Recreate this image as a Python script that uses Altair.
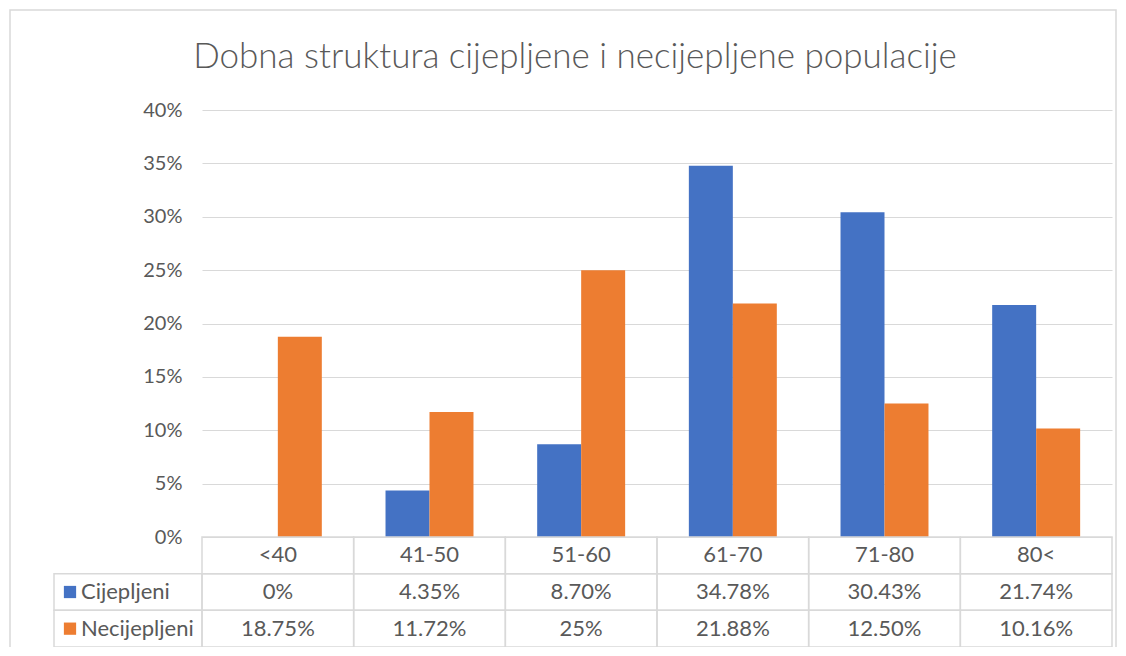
import altair as alt
import pandas as pd

categories = ["<40", "41-50", "51-60", "61-70", "71-80", "80<"]
series_names = ["Cijepljeni", "Necijepljeni"]
cijepljeni = [0.0, 4.35, 8.70, 34.78, 30.43, 21.74]
necijepljeni = [18.75, 11.72, 25.0, 21.88, 12.50, 10.16]
cijepljeni_labels = ["0%", "4.35%", "8.70%", "34.78%", "30.43%", "21.74%"]
necijepljeni_labels = ["18.75%", "11.72%", "25%", "21.88%", "12.50%", "10.16%"]
y_ticks = [0, 0.05, 0.10, 0.15, 0.20, 0.25, 0.30, 0.35, 0.40]
colors = ["#4472C4", "#ED7D31"]
title_text = ["Dobna struktura cijepljene i necijepljene populacije"]

TEXT = "#595959"
GRID = "#d9d9d9"
FONT = "Lato"
W, H = 910, 537
BAR_H = 427

bars_df = pd.DataFrame(
    [{"category": c, "series": "Cijepljeni", "value": v / 100} for c, v in zip(categories, cijepljeni)]
    + [{"category": c, "series": "Necijepljeni", "value": v / 100} for c, v in zip(categories, necijepljeni)]
)

rows = ["header"] + series_names
table_rows = []
for i, c in enumerate(categories):
    table_rows.append({"category": c, "row": "header", "label": c})
    table_rows.append({"category": c, "row": "Cijepljeni", "label": cijepljeni_labels[i]})
    table_rows.append({"category": c, "row": "Necijepljeni", "label": necijepljeni_labels[i]})
table_df = pd.DataFrame(table_rows)

legend_df = pd.DataFrame({"col": ["L", "L"], "row": series_names, "series": series_names})
title_df = pd.DataFrame({"title": title_text})

row_scale = alt.Scale(domain=rows, range=[BAR_H, H], paddingInner=0, paddingOuter=0)
cat_scale = alt.Scale(domain=categories, paddingInner=0, paddingOuter=0)
leg_scale = alt.Scale(domain=["L"], range=[-148, 0], paddingInner=0, paddingOuter=0)
color_scale = alt.Scale(domain=series_names, range=colors)

bars = alt.Chart(bars_df).mark_bar().encode(
    x=alt.X("category:N", sort=categories,
            scale=alt.Scale(domain=categories, paddingInner=0.42, paddingOuter=0.21), axis=None),
    xOffset=alt.XOffset("series:N", scale=alt.Scale(domain=series_names, paddingInner=0, paddingOuter=0)),
    y=alt.Y("value:Q", scale=alt.Scale(domain=[0, 0.4], range=[BAR_H, 0], nice=False, zero=True),
            axis=alt.Axis(values=y_ticks, format=".0%", grid=True, gridColor=GRID, gridWidth=1,
                          domain=False, ticks=False, labelFontSize=20, labelColor=TEXT,
                          labelFont=FONT, labelPadding=20, title=None)),
    color=alt.Color("series:N", scale=color_scale, legend=None),
)

cells = alt.Chart(table_df).mark_rect(fillOpacity=0, stroke=GRID, strokeWidth=1.5).encode(
    x=alt.X("category:N", scale=cat_scale, axis=None),
    y=alt.Y("row:N", scale=row_scale, axis=None),
)

cell_text = alt.Chart(table_df).mark_text(fontSize=22, font=FONT, color=TEXT).encode(
    x=alt.X("category:N", scale=cat_scale, axis=None),
    y=alt.Y("row:N", scale=row_scale, axis=None),
    text="label:N",
)

leg_cells = alt.Chart(legend_df).mark_rect(fillOpacity=0, stroke=GRID, strokeWidth=1.5).encode(
    x=alt.X("col:N", scale=leg_scale, axis=None),
    y=alt.Y("row:N", scale=row_scale, axis=None),
)

leg_sq = alt.Chart(legend_df).mark_square(size=150, opacity=1, xOffset=-58).encode(
    x=alt.X("col:N", scale=leg_scale, axis=None),
    y=alt.Y("row:N", scale=row_scale, axis=None),
    color=alt.Color("series:N", scale=color_scale, legend=None),
)

leg_text = alt.Chart(legend_df).mark_text(align="left", dx=-47, fontSize=22, font=FONT, color=TEXT).encode(
    x=alt.X("col:N", scale=leg_scale, axis=None),
    y=alt.Y("row:N", scale=row_scale, axis=None),
    text="row:N",
)

frame = alt.Chart(title_df).mark_rect(fillOpacity=0, stroke=GRID, strokeWidth=1.5).encode(
    x=alt.value(-192), x2=alt.value(914), y=alt.value(-100), y2=alt.value(560),
)

title = alt.Chart(title_df).mark_text(
    fontSize=35, font=FONT, fontWeight=300, color=TEXT, align="center", baseline="alphabetic"
).encode(
    x=alt.value(373), y=alt.value(-42), text="title:N",
)

chart = alt.layer(frame, title, bars, cells, cell_text, leg_cells, leg_sq, leg_text).resolve_scale(
    x="independent", y="independent", color="shared"
).properties(
    width=W, height=H,
    autosize=alt.AutoSizeParams(type="none"),
    padding={"left": 194, "top": 102, "right": 6, "bottom": 0},
).configure_view(stroke=None)

chart.save("out.html", embed_options={"renderer": "svg", "actions": False})
